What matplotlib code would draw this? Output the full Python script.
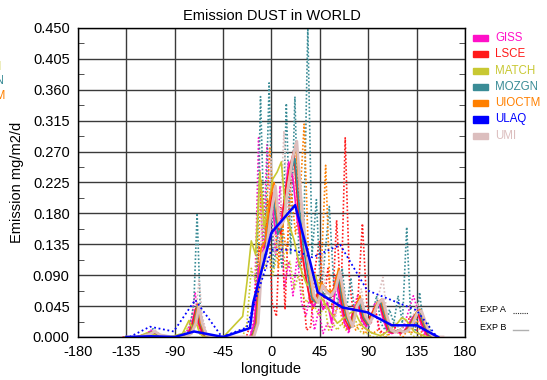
import numpy as np
import matplotlib
matplotlib.use("Agg")
import matplotlib.pyplot as plt
from matplotlib.lines import Line2D
from matplotlib.patches import Rectangle

plt.rcParams['font.family'] = ['Liberation Sans', 'DejaVu Sans']

# longitude grid shared by the model curves (Americas part + Africa/Asia part)
lon_am = [-138, -126, -117, -112, -107, -96, -84, -78, -74, -71, -68, -64, -56, -46]
lon_af = list(np.arange(-28, 157, 4))
lon_grid = lon_am + lon_af

# EXP A (dotted) emissions, mg/m2/d
giss_a = [0, 0, 0.004, 0.01, 0.003, 0, 0, 0.01, 0.03, 0.065, 0.02, 0.003, 0, 0,
          0, 0, 0, 0.03, 0.29, 0.12, 0.28, 0.16, 0.12, 0.22, 0.07, 0.11, 0.06, 0.12, 0.05, 0.03,
          0.06, 0.01, 0.04, 0.005, 0.02, 0.01, 0.035, 0.06, 0.02, 0.005, 0.04, 0.06, 0.02, 0.01,
          0.02, 0.05, 0.01, 0.005, 0.01, 0.02, 0.01, 0.005, 0.02, 0.04, 0.06, 0.04, 0.01, 0, 0, 0, 0]
lsce_a = [0, 0, 0.003, 0.006, 0.002, 0, 0, 0.005, 0.02, 0.04, 0.015, 0, 0, 0,
          0, 0, 0.02, 0.06, 0.13, 0.10, 0.20, 0.05, 0.03, 0.19, 0.04, 0.20, 0.27, 0.22, 0.08, 0.01,
          0.015, 0.10, 0.14, 0.05, 0.10, 0.04, 0.17, 0.05, 0.29, 0.08, 0.03, 0.06, 0.165, 0.05,
          0.02, 0.04, 0.01, 0.005, 0.01, 0.02, 0.01, 0.005, 0.01, 0.03, 0.02, 0.005, 0, 0, 0, 0, 0]
match_a = [0, 0, 0.004, 0.004, 0, 0, 0.003, 0.015, 0.01, 0.03, 0.005, 0, 0, 0,
           0, 0.02, 0.10, 0.08, 0.24, 0.10, 0.14, 0.09, 0.12, 0.15, 0.10, 0.11, 0.07, 0.09, 0.06, 0.05,
           0.07, 0.04, 0.03, 0.05, 0.01, 0.02, 0.01, 0.02, 0.01, 0.015, 0.03, 0.01, 0.005, 0.005,
           0, 0, 0, 0, 0.005, 0.01, 0.005, 0.015, 0.01, 0.005, 0, 0, 0, 0, 0, 0, 0]
mozgn_a = [0, 0, 0.005, 0.012, 0.004, 0, 0, 0.01, 0.05, 0.18, 0.04, 0.005, 0, 0,
           0, 0, 0, 0.04, 0.35, 0.12, 0.37, 0.10, 0.15, 0.10, 0.34, 0.12, 0.35, 0.10, 0.13, 0.45,
           0.12, 0.20, 0.06, 0.12, 0.19, 0.08, 0.05, 0.10, 0.04, 0.086, 0.03, 0.05, 0.02, 0.01,
           0.03, 0.06, 0.02, 0.01, 0.04, 0.02, 0.06, 0.02, 0.16, 0.02, 0.01, 0.065, 0.01, 0.02, 0, 0, 0]
uioctm_a = [0, 0, 0.003, 0.006, 0.002, 0, 0, 0.005, 0.02, 0.05, 0.015, 0, 0, 0,
            0, 0, 0, 0.05, 0.23, 0.15, 0.275, 0.18, 0.10, 0.16, 0.12, 0.21, 0.15, 0.20, 0.31, 0.12,
            0.04, 0.06, 0.10, 0.25, 0.07, 0.03, 0.05, 0.02, 0.01, 0.03, 0.01, 0.02, 0.005, 0.01,
            0.005, 0.01, 0.005, 0, 0.005, 0.01, 0.005, 0, 0.01, 0.005, 0.03, 0.01, 0, 0, 0, 0, 0]
umi_a = [0, 0, 0.004, 0.01, 0.003, 0, 0, 0.008, 0.03, 0.085, 0.03, 0.005, 0, 0,
         0, 0, 0, 0.03, 0.20, 0.10, 0.26, 0.12, 0.15, 0.30, 0.16, 0.25, 0.20, 0.12, 0.14, 0.09,
         0.05, 0.08, 0.12, 0.04, 0.06, 0.03, 0.07, 0.04, 0.02, 0.03, 0.05, 0.07, 0.03, 0.02,
         0.04, 0.06, 0.087, 0.03, 0.01, 0.02, 0.01, 0.02, 0.01, 0.03, 0.05, 0.03, 0.01, 0, 0, 0, 0]

# EXP B (solid) emissions
giss_b = [0, 0, 0.004, 0.008, 0.003, 0, 0, 0.005, 0.02, 0.04, 0.02, 0.003, 0, 0,
          0, 0, 0, 0.02, 0.10, 0.12, 0.16, 0.20, 0.15, 0.16, 0.20, 0.255, 0.23, 0.17, 0.13, 0.09,
          0.05, 0.045, 0.065, 0.04, 0.05, 0.02, 0.08, 0.05, 0.02, 0.01, 0.04, 0.05, 0.025, 0.015,
          0.03, 0.04, 0.05, 0.025, 0.008, 0.005, 0.008, 0.005, 0.01, 0.02, 0.03, 0.035, 0.015, 0.003, 0, 0, 0]
lsce_b = [0, 0, 0.003, 0.007, 0.003, 0, 0, 0.005, 0.02, 0.042, 0.02, 0.003, 0, 0,
          0, 0, 0, 0.01, 0.09, 0.11, 0.17, 0.21, 0.17, 0.15, 0.21, 0.245, 0.27, 0.19, 0.12, 0.08,
          0.05, 0.055, 0.07, 0.06, 0.055, 0.06, 0.09, 0.055, 0.025, 0.012, 0.04, 0.05, 0.028, 0.018,
          0.032, 0.045, 0.05, 0.028, 0.009, 0.006, 0.009, 0.006, 0.01, 0.018, 0.03, 0.034, 0.018, 0.004, 0, 0, 0]
match_b = [0, 0, 0.006, 0.004, 0.002, 0, 0.005, 0.024, 0.01, 0.02, 0.005, 0, 0, 0,
           0.03, 0.08, 0.14, 0.12, 0.24, 0.16, 0.19, 0.23, 0.24, 0.255, 0.18, 0.16, 0.14, 0.11, 0.09, 0.075,
           0.085, 0.09, 0.06, 0.05, 0.04, 0.03, 0.02, 0.025, 0.03, 0.035, 0.038, 0.025, 0.015, 0.01,
           0.006, 0.004, 0.002, 0.005, 0.01, 0.015, 0.02, 0.028, 0.025, 0.015, 0.007, 0.005, 0.002, 0, 0, 0, 0]
mozgn_b = [0, 0, 0.004, 0.008, 0.003, 0, 0, 0.005, 0.02, 0.045, 0.02, 0.003, 0, 0,
           0, 0, 0, 0.02, 0.11, 0.12, 0.17, 0.20, 0.15, 0.16, 0.20, 0.24, 0.26, 0.19, 0.13, 0.09,
           0.055, 0.05, 0.07, 0.06, 0.055, 0.065, 0.09, 0.055, 0.028, 0.014, 0.042, 0.05, 0.028, 0.018,
           0.032, 0.046, 0.05, 0.028, 0.009, 0.007, 0.01, 0.007, 0.01, 0.02, 0.033, 0.036, 0.018, 0.004, 0, 0, 0]
uioctm_b = [0, 0, 0.004, 0.008, 0.003, 0, 0, 0.005, 0.02, 0.045, 0.02, 0.003, 0, 0,
            0, 0, 0, 0.02, 0.13, 0.14, 0.20, 0.225, 0.16, 0.16, 0.21, 0.25, 0.28, 0.21, 0.15, 0.10,
            0.06, 0.05, 0.08, 0.07, 0.065, 0.07, 0.10, 0.06, 0.03, 0.015, 0.045, 0.06, 0.03, 0.02,
            0.035, 0.05, 0.055, 0.03, 0.01, 0.007, 0.01, 0.007, 0.01, 0.02, 0.035, 0.04, 0.02, 0.005, 0, 0, 0]
umi_b = [0, 0, 0.004, 0.008, 0.003, 0, 0, 0.005, 0.02, 0.045, 0.02, 0.003, 0, 0,
         0, 0, 0, 0.02, 0.12, 0.13, 0.18, 0.22, 0.16, 0.17, 0.22, 0.26, 0.285, 0.20, 0.14, 0.10,
         0.06, 0.05, 0.075, 0.065, 0.06, 0.07, 0.095, 0.06, 0.03, 0.015, 0.045, 0.055, 0.03, 0.02,
         0.035, 0.05, 0.055, 0.03, 0.01, 0.007, 0.01, 0.007, 0.01, 0.02, 0.035, 0.038, 0.02, 0.005, 0, 0, 0]

# ULAQ runs on a coarse grid
ulaq_lon_a = [-132, -113, -91, -71, -46, -23, 0, 20, 38, 64, 89, 135, 154]
ulaq_a = [0, 0.015, 0.008, 0.054, 0, 0.014, 0.127, 0.127, 0.116, 0.134, 0.068, 0.039, 0]
ulaq_lon_b = [-135, -112, -90, -72, -45, -20, -17, 0, 22, 34, 43, 66, 89, 112, 135, 155]
ulaq_b = [0, 0.001, 0, 0.008, 0, 0.013, 0.05, 0.152, 0.192, 0.122, 0.065, 0.043, 0.036, 0.017, 0.017, 0]

models = ["GISS", "LSCE", "MATCH", "MOZGN", "UIOCTM", "ULAQ", "UMI"]
colors = ["#ff10c8", "#ff1a1a", "#c8c832", "#3a8c96", "#ff8000", "#0000ff", "#dcbebe"]

exp_a = [giss_a, lsce_a, match_a, mozgn_a, uioctm_a, None, umi_a]
exp_b = [giss_b, lsce_b, match_b, mozgn_b, uioctm_b, None, umi_b]

fig = plt.figure(figsize=(5.47, 3.80), dpi=100)
ax = fig.add_axes([0.1426, 0.1132, 0.7074, 0.8132])

lon = np.array(lon_grid, dtype=float)
for i, name in enumerate(models):
    if exp_a[i] is None:
        continue
    va = exp_a[i]
    n = min(len(lon), len(va))
    ax.plot(lon[:n] + 0.6 * i, va[:n], color=colors[i], ls=(0, (1, 1.2)), lw=1.2)

for i, name in enumerate(models):
    if exp_b[i] is None:
        continue
    vb = exp_b[i]
    n = min(len(lon), len(vb))
    lw = 2.0 if name == "UMI" else 1.2
    ax.plot(lon[:n] + 0.6 * i, vb[:n], color=colors[i], ls='-', lw=lw)

ax.plot(ulaq_lon_a, ulaq_a, color="#0000ff", ls=(0, (1, 1.5)), lw=1.3)
ax.plot(ulaq_lon_b, ulaq_b, color="#0000ff", ls='-', lw=1.8)

ax.set_xlim(-180, 180)
ax.set_ylim(0, 0.45)
xt = np.arange(-180, 181, 45)
yt = np.arange(0, 0.4501, 0.045)
ax.set_xticks(xt)
ax.set_xticklabels([str(v) for v in xt])
ax.set_yticks(yt)
ax.set_yticklabels(["%.3f" % v for v in yt])
ax.set_yticks(np.arange(0.0225, 0.45, 0.045), minor=True)
ax.tick_params(axis='both', which='major', length=0, labelsize=10.5, pad=6)
ax.tick_params(axis='y', which='minor', direction='in', length=4, left=True, right=True, color='#333333')
ax.grid(True, which='major', color='#3a3a3a', lw=1.0)
ax.set_axisbelow(True)
for s in ax.spines.values():
    s.set_color('black')
    s.set_linewidth(1.0)

ax.set_title("Emission DUST in WORLD", fontsize=10.5, pad=6)
ax.set_xlabel("longitude", fontsize=10.5, labelpad=2)
ax.set_ylabel("Emission mg/m2/d", fontsize=10.5, labelpad=6)

# legend boxes on the right
W, H = 547.0, 380.0
for i, name in enumerate(models):
    yc = 38 + 16.3 * i
    fig.patches.append(Rectangle((473 / W, 1 - (yc + 3) / H), 15 / W, 6 / H,
                                 transform=fig.transFigure, color=colors[i]))
    fig.text(495 / W, 1 - yc / H, name, color=colors[i], fontsize=8.3, va='center', ha='left')

# second legend column, cut off at the left edge
for name, col, yc in [("MATCH", colors[2], 67), ("MOZGN", colors[3], 81), ("UIOCTM", colors[4], 96)]:
    fig.text(-39.5 / W, 1 - yc / H, name, color=col, fontsize=8.3, va='center', ha='left')

# experiment key
fig.text(480 / W, 1 - 310 / H, "EXP A", fontsize=6.5, va='center', ha='left')
fig.text(480 / W, 1 - 327 / H, "EXP B", fontsize=6.5, va='center', ha='left')
fig.lines.append(Line2D([513 / W, 528 / W], [1 - 313 / H, 1 - 313 / H], transform=fig.transFigure,
                        color='#333333', ls=(0, (1, 1)), lw=0.8))
fig.lines.append(Line2D([513 / W, 528 / W], [1 - 330 / H, 1 - 330 / H], transform=fig.transFigure,
                        color='#b0b0b0', ls='-', lw=1.0))

fig.savefig("out.png", dpi=100)
